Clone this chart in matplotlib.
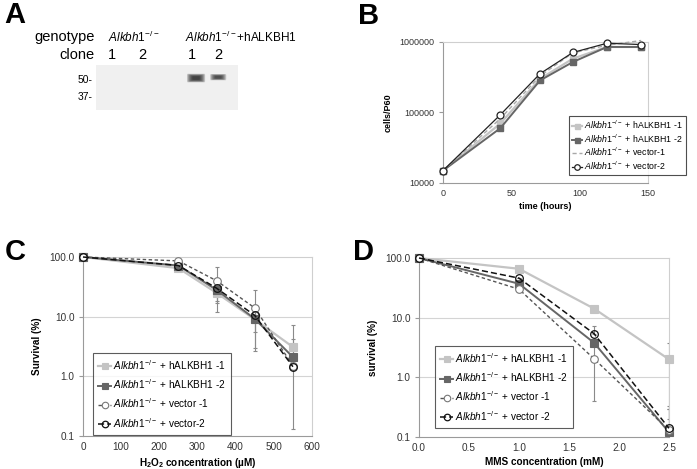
import matplotlib
matplotlib.use("Agg")
import matplotlib.pyplot as plt
from matplotlib.patches import Rectangle, FancyBboxPatch

plt.rcParams['font.family'] = ['Liberation Sans', 'DejaVu Sans']
plt.rcParams['mathtext.fontset'] = 'custom'
plt.rcParams['mathtext.rm'] = 'Liberation Sans'
plt.rcParams['mathtext.it'] = 'Liberation Sans:italic'
plt.rcParams['mathtext.bf'] = 'Liberation Sans:bold'

# ---------------- data ----------------
# Panel A (western blot)
blot_lane_x = [0.98, 1.88, 3.53, 4.2]
blot_clone_labels = ['1', '2', '1', '2']
blot_band_intensity = [0.0, 0.0, 0.95, 0.8]
blot_markers = ['50-', '37-']

# Panel B (growth)
b_time = [0, 42, 71, 95, 120, 145]
b_h1 = [15000, 70000, 300000, 580000, 850000, 850000]
b_h2 = [15000, 60000, 285000, 520000, 850000, 850000]
b_v1 = [15000, 82000, 330000, 700000, 900000, 1050000]
b_v2 = [15000, 93000, 355000, 710000, 960000, 920000]
b_yticks = [10000, 100000, 1000000]
b_xticks = [0, 50, 100, 150]

# Panel C (H2O2)
c_conc = [0, 250, 350, 450, 550]
c_h1 = [100, 65, 25, 9.0, 3.1]
c_h1_lo = [0, 0, 8, 6.3, 0]
c_h1_hi = [0, 0, 8, 6.3, 4.1]
c_h2 = [100, 72, 28, 9.2, 2.1]
c_h2_lo = [0, 0, 10, 6.2, 0]
c_h2_hi = [0, 0, 10, 6.2, 2.2]
c_v1 = [100, 86, 40, 14, 1.5]
c_v1_lo = [0, 0, 28, 0, 0]
c_v1_hi = [0, 5, 28, 14.5, 0]
c_v2 = [100, 72, 30, 10.5, 1.45]
c_v2_lo = [0, 0, 0, 5, 1.32]
c_v2_hi = [0, 0, 6, 5, 1.32]
c_xticks = [0, 100, 200, 300, 400, 500, 600]

# Panel D (MMS)
d_conc = [0, 1.0, 1.75, 2.5]
d_h1 = [100, 66, 14.2, 2.0]
d_h1_lo = [0, 0, 0, 1.8]
d_h1_hi = [0, 0, 0, 1.8]
d_h2 = [100, 37, 3.8, 0.12]
d_h2_lo = [0, 0, 0, 0]
d_h2_hi = [0, 0, 0, 0.18]
d_v1 = [100, 30, 2.05, 0.13]
d_v1_lo = [0, 3, 1.65, 0]
d_v1_hi = [0, 3, 1.65, 0.2]
d_v2 = [100, 46, 5.4, 0.14]
d_v2_lo = [0, 0, 0, 0]
d_v2_hi = [0, 0, 1.9, 0.16]
d_xticks = [0.0, 0.5, 1.0, 1.5, 2.0, 2.5]
surv_yticks = [0.1, 1.0, 10.0, 100.0]

ALK = r"$\mathit{Alkbh1}^{\mathit{-/-}}$"
lab_b = [ALK + " + hALKBH1 -1", ALK + " + hALKBH1 -2", ALK + " + vector-1", ALK + " + vector-2"]
lab_cd = [ALK + " + hALKBH1 -1", ALK + " + hALKBH1 -2", ALK + " + vector -1", ALK + " + vector-2"]
lab_d = [ALK + " + hALKBH1 -1", ALK + " + hALKBH1 -2", ALK + " + vector -1", ALK + " + vector -2"]

LIGHT = '#c4c4c4'
DARK = '#666666'
TICKC = '#333333'

W, H = 697, 469
fig = plt.figure(figsize=(W / 100, H / 100), dpi=100)


def rect(l, r, t, b):
    return [l / W, 1 - b / H, (r - l) / W, (b - t) / H]


def style_axes(ax, fs=7):
    for s in ['left', 'bottom']:
        ax.spines[s].set_color('#9a9a9a')
        ax.spines[s].set_linewidth(0.8)
    for s in ['top', 'right']:
        ax.spines[s].set_color('#cfcfcf')
        ax.spines[s].set_linewidth(0.8)
    ax.tick_params(axis='both', which='major', labelsize=fs, colors='#9a9a9a', labelcolor=TICKC,
                   direction='out', width=0.8)
    ax.tick_params(axis='y', which='major', length=3, pad=3)
    ax.tick_params(axis='x', which='major', length=0, pad=4)
    ax.tick_params(axis='y', which='minor', left=False, labelleft=False)


# ---------------- Panel A ----------------
axA = fig.add_axes(rect(96, 238, 65, 110))
axA.set_xlim(0.5, 4.8)
axA.set_ylim(0, 1)
axA.add_patch(Rectangle((0, 0), 1, 1, transform=axA.transAxes, color='#f0f0f0', lw=0))
for lx, inten in zip(blot_lane_x, blot_band_intensity):
    if inten > 0:
        w = 0.55 if inten > 0.9 else 0.49
        h = 0.19 if inten > 0.9 else 0.14
        cy = 0.71 if inten > 0.9 else 0.73
        for k in range(7):
            s = 1.0 - k * 0.1
            axA.add_patch(FancyBboxPatch((lx - w * s / 2, cy - h * s / 2), w * s, h * s,
                                         boxstyle='round,pad=0,rounding_size=0.03',
                                         color='#1a1a1a', alpha=0.22 * inten, lw=0))
axA.axis('off')
fig.text(4 / W, 1 - 15 / H, 'A', fontsize=21, fontweight='bold', va='center', ha='left')
fig.text(95 / W, 1 - 37 / H, 'genotype', fontsize=10.5, ha='right', va='center')
fig.text(95 / W, 1 - 55 / H, 'clone', fontsize=10.5, ha='right', va='center')
fig.text(108 / W, 1 - 37 / H, ALK, fontsize=8.5, ha='left', va='center')
fig.text(185 / W, 1 - 37 / H, ALK + "+hALKBH1", fontsize=8.5, ha='left', va='center')
for px, t in zip([112, 142, 192, 218], blot_clone_labels):
    fig.text(px / W, 1 - 55 / H, t, fontsize=10.5, ha='center', va='center')
fig.text(93 / W, 1 - 80 / H, blot_markers[0], fontsize=7.5, ha='right', va='center')
fig.text(93 / W, 1 - 97 / H, blot_markers[1], fontsize=7.5, ha='right', va='center')

# ---------------- Panel B ----------------
axB = fig.add_axes(rect(443, 648, 42, 183))
axB.set_yscale('log')
axB.set_xlim(0, 150)
axB.set_ylim(1e4, 1e6)
style_axes(axB, fs=6.5)
axB.plot(b_time, b_h1, color=LIGHT, lw=1.6, marker='s', ms=4.5, mfc=LIGHT, mec=LIGHT, label=lab_b[0], clip_on=False, zorder=3)
axB.plot(b_time, b_h2, color=DARK, lw=1.4, marker='s', ms=4.5, mfc=DARK, mec=DARK, label=lab_b[1], clip_on=False, zorder=3)
axB.plot(b_time, b_v1, color='#a8a8a8', lw=1.0, ls=(0, (3, 2)), label=lab_b[2], clip_on=False, zorder=4)
axB.plot(b_time, b_v2, color='#222222', lw=0.9, marker='o', ms=5, mfc='white', mec='#222222', mew=0.9, label=lab_b[3], clip_on=False, zorder=5)
axB.set_xticks(b_xticks)
axB.set_yticks(b_yticks)
axB.set_yticklabels([str(v) for v in b_yticks])
axB.set_xlabel('time (hours)', fontsize=6.5, fontweight='bold', labelpad=3)
axB.set_ylabel('cells/P60', fontsize=6.5, fontweight='bold', labelpad=5)
legB = axB.legend(loc='upper right', bbox_to_anchor=(1.185, 0.478), fontsize=6.3, frameon=True,
                  fancybox=False, edgecolor='#222222', handlelength=1.2, handletextpad=0.2,
                  labelspacing=0.15, borderpad=0.35, borderaxespad=0, markerscale=0.8)
legB.get_frame().set_linewidth(0.8)
fig.text(358 / W, 1 - 16 / H, 'B', fontsize=21, fontweight='bold', va='center', ha='left')


def survival_panel(ax, x, series, errs, labels, xticks, xlim, xlabel, ylabel, legpos):
    ax.set_yscale('log')
    ax.set_xlim(*xlim)
    ax.set_ylim(0.1, 100)
    style_axes(ax, fs=7.2)
    for yv in [1.0, 10.0]:
        ax.axhline(yv, color='#d4d4d4', lw=0.8, zorder=0)
    styles = [
        dict(color=LIGHT, lw=1.6, ls='-', marker='s', ms=5.5, mfc=LIGHT, mec=LIGHT, mew=0.8),
        dict(color=DARK, lw=1.4, ls='-', marker='s', ms=5.5, mfc=DARK, mec=DARK, mew=0.8),
        dict(color='#555555', lw=1.0, ls=(0, (2.5, 1.8)), marker='o', ms=5.5, mfc='white', mec='#777777', mew=0.8),
        dict(color='#111111', lw=1.1, ls=(0, (4, 2)), marker='o', ms=5.5, mfc='none', mec='#111111', mew=0.9),
    ]
    for y, (lo, hi), lab, st in zip(series, errs, labels, styles):
        ax.errorbar(x, y, yerr=[lo, hi], fmt='none', ecolor='#8a8a8a', elinewidth=0.8, capsize=1.5,
                    capthick=0.8, zorder=2)
        ax.plot(x, y, label=lab, clip_on=False, zorder=3, **st)
    ax.set_xticks(xticks)
    ax.set_yticks(surv_yticks)
    ax.set_yticklabels(['%.1f' % v for v in surv_yticks])
    ax.set_xlabel(xlabel, fontsize=7.2, fontweight='bold', labelpad=3)
    ax.set_ylabel(ylabel, fontsize=7.2, fontweight='bold', labelpad=5)
    leg = ax.legend(loc='upper left', bbox_to_anchor=legpos, fontsize=7.2, frameon=True, fancybox=False,
                    edgecolor='#333333', handlelength=1.3, handletextpad=0.2, labelspacing=0.55,
                    borderpad=0.5, borderaxespad=0, markerscale=0.85)
    leg.get_frame().set_linewidth(0.8)


# ---------------- Panel C ----------------
axC = fig.add_axes(rect(83, 312, 257, 436))
survival_panel(axC, c_conc, [c_h1, c_h2, c_v1, c_v2],
               [(c_h1_lo, c_h1_hi), (c_h2_lo, c_h2_hi), (c_v1_lo, c_v1_hi), (c_v2_lo, c_v2_hi)],
               lab_cd, c_xticks, (0, 600), r'H$_\mathbf{2}$O$_\mathbf{2}$ concentration (µM)', 'Survival (%)',
               (0.044, 0.464))
axC.set_xticklabels([str(v) for v in c_xticks])
fig.text(5 / W, 1 - 252 / H, 'C', fontsize=21, fontweight='bold', va='center', ha='left')

# ---------------- Panel D ----------------
axD = fig.add_axes(rect(419, 669, 258, 437))
survival_panel(axD, d_conc, [d_h1, d_h2, d_v1, d_v2],
               [(d_h1_lo, d_h1_hi), (d_h2_lo, d_h2_hi), (d_v1_lo, d_v1_hi), (d_v2_lo, d_v2_hi)],
               lab_d, d_xticks, (0, 2.5), 'MMS concentration (mM)', 'survival (%)', (0.064, 0.508))
axD.set_xticklabels(['%.1f' % v for v in d_xticks])
fig.text(353 / W, 1 - 252 / H, 'D', fontsize=21, fontweight='bold', va='center', ha='left')

fig.savefig('out.png', dpi=100)
